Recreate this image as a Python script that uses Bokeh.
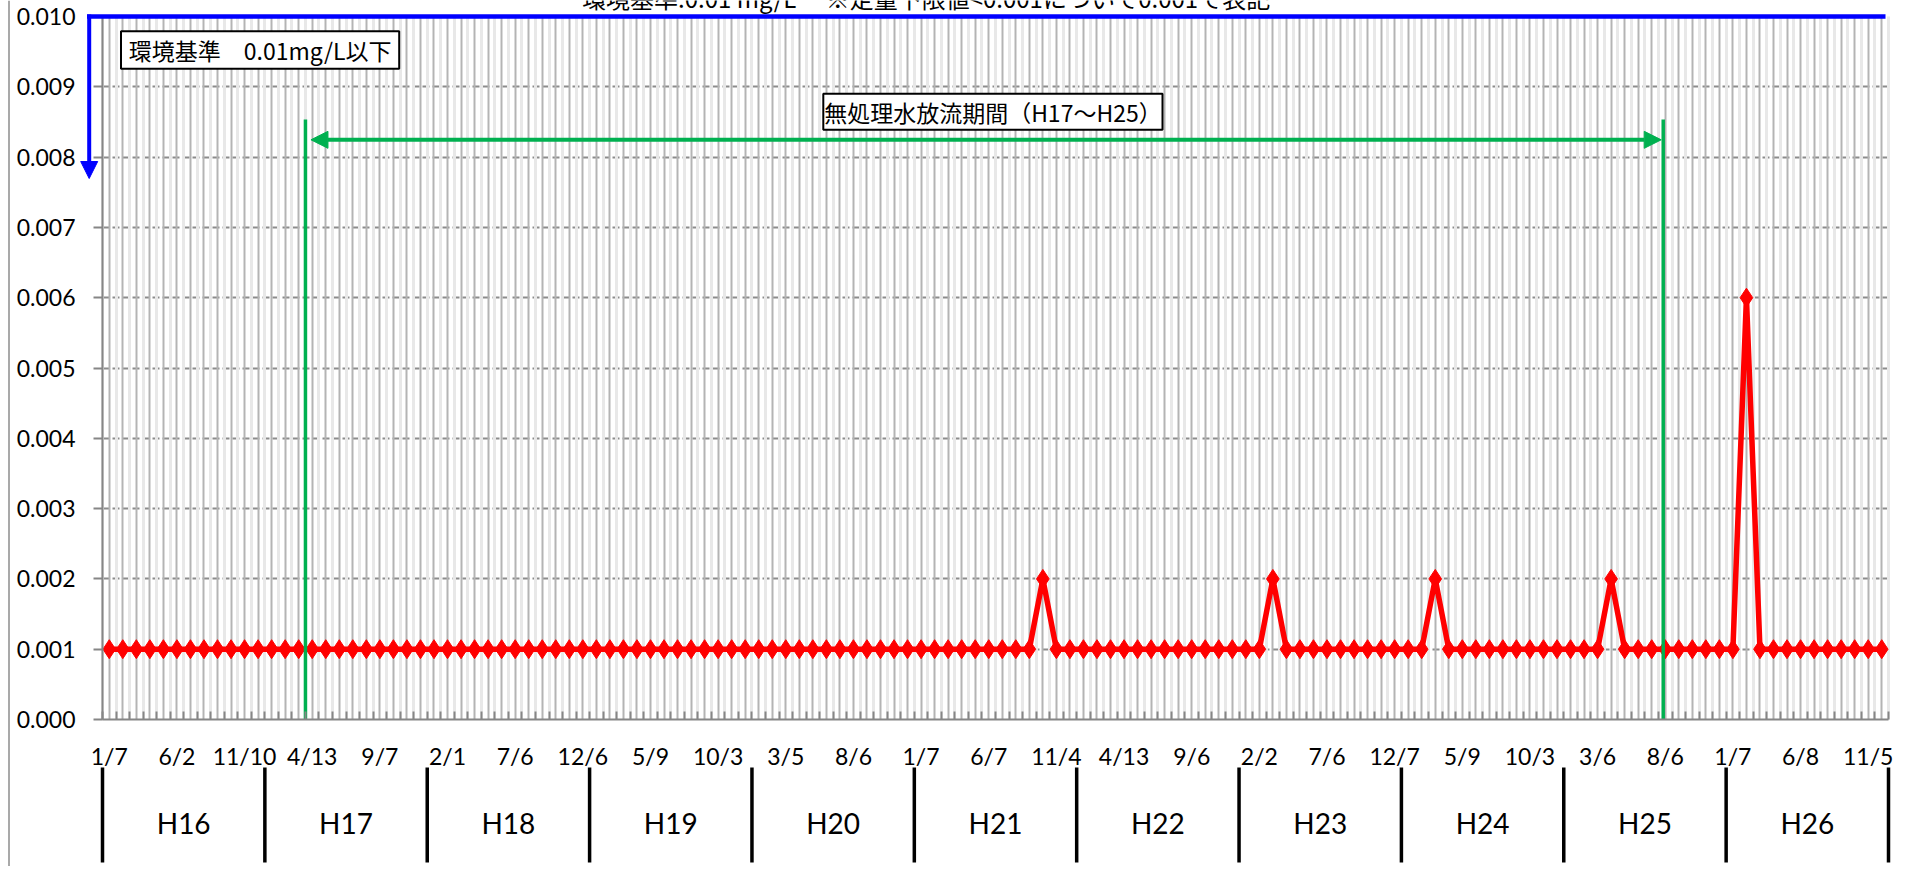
from bokeh.plotting import figure
from bokeh.models import (FixedTicker, NumeralTickFormatter, Grid, Arrow, NormalHead,
                          Label, LabelSet, ColumnDataSource, BoxAnnotation, Range1d, Span)
from bokeh.core.properties import value
from bokeh.embed import file_html
from bokeh.resources import INLINE

# ---------------- data ----------------
years = ["H16", "H17", "H18", "H19", "H20", "H21", "H22", "H23", "H24", "H25", "H26"]

# monthly measured values (mg/L), one row per year, 12 samples each
values_by_year = [
    [0.001, 0.001, 0.001, 0.001, 0.001, 0.001, 0.001, 0.001, 0.001, 0.001, 0.001, 0.001],  # H16
    [0.001, 0.001, 0.001, 0.001, 0.001, 0.001, 0.001, 0.001, 0.001, 0.001, 0.001, 0.001],  # H17
    [0.001, 0.001, 0.001, 0.001, 0.001, 0.001, 0.001, 0.001, 0.001, 0.001, 0.001, 0.001],  # H18
    [0.001, 0.001, 0.001, 0.001, 0.001, 0.001, 0.001, 0.001, 0.001, 0.001, 0.001, 0.001],  # H19
    [0.001, 0.001, 0.001, 0.001, 0.001, 0.001, 0.001, 0.001, 0.001, 0.001, 0.001, 0.001],  # H20
    [0.001, 0.001, 0.001, 0.001, 0.001, 0.001, 0.001, 0.001, 0.001, 0.002, 0.001, 0.001],  # H21
    [0.001, 0.001, 0.001, 0.001, 0.001, 0.001, 0.001, 0.001, 0.001, 0.001, 0.001, 0.001],  # H22
    [0.001, 0.001, 0.002, 0.001, 0.001, 0.001, 0.001, 0.001, 0.001, 0.001, 0.001, 0.001],  # H23
    [0.001, 0.001, 0.002, 0.001, 0.001, 0.001, 0.001, 0.001, 0.001, 0.001, 0.001, 0.001],  # H24
    [0.001, 0.001, 0.001, 0.002, 0.001, 0.001, 0.001, 0.001, 0.001, 0.001, 0.001, 0.001],  # H25
    [0.001, 0.006, 0.001, 0.001, 0.001, 0.001, 0.001, 0.001, 0.001, 0.001, 0.001, 0.001],  # H26
]

# sampling-date labels shown on every 5th sample
tick_labels = ["1/7", "6/2", "11/10", "4/13", "9/7", "2/1", "7/6", "12/6", "5/9", "10/3",
               "3/5", "8/6", "1/7", "6/7", "11/4", "4/13", "9/6", "2/2", "7/6", "12/7",
               "5/9", "10/3", "3/6", "8/6", "1/7", "6/8", "11/5"]
label_step = 5

y_ticks = [0.000, 0.001, 0.002, 0.003, 0.004, 0.005, 0.006, 0.007, 0.008, 0.009, 0.010]
standard_value = 0.010

title_text = "環境基準:0.01 mg/L　 ※定量下限値<0.001について0.001で表記"
standard_text = "環境基準　0.01mg/L以下"
period_text = "無処理水放流期間（H17〜H25）"
period_start = 14.5     # between the 3/2005 and 4/2005 samples
period_end = 114.85     # around the 8/2013 sample

# ---------------- derived ----------------
values = [v for row in values_by_year for v in row]
n = len(values)
per_year = len(values_by_year[0])
idx = list(range(n))
boundaries = [i + 0.5 for i in range(-1, n)]

# ---------------- layout (canvas pixels) ----------------
W, H = 1895, 866
FL, FR, FT, FB = 102, 1888, 16, 719      # plot area inside the canvas
X0, X1 = -0.5, n - 0.5
Y0, Y1 = y_ticks[0], y_ticks[-1]


def dx(px):
    return X0 + (px - FL) / (FR - FL) * (X1 - X0)


def dy(py):
    return Y0 + (FB - py) / (FB - FT) * (Y1 - Y0)


def sx(x):
    return FL + (x - X0) / (X1 - X0) * (FR - FL)


LAT = "Lato"
CJK = "Noto Sans CJK JP"
RED = "#FF0000"
GREEN = "#00B050"
BLUE = "#0000FF"
AXIS = "#868686"

p = figure(width=W, height=H, x_range=Range1d(dx(0), dx(W)), y_range=Range1d(dy(H), dy(0)),
           output_backend="svg", toolbar_location=None,
           min_border_left=0, min_border_right=0, min_border_top=0, min_border_bottom=0)
p.outline_line_color = None
p.background_fill_color = "white"
p.border_fill_color = "white"

# y axis (fixed at the left edge of the plot area)
p.yaxis.fixed_location = X0
p.yaxis.bounds = (Y0, Y1)
p.yaxis.ticker = FixedTicker(ticks=y_ticks)
p.yaxis.formatter = NumeralTickFormatter(format="0.000")
p.yaxis.axis_line_color = AXIS
p.yaxis.axis_line_width = 2
p.yaxis.major_tick_line_color = AXIS
p.yaxis.major_tick_line_width = 2
p.yaxis.major_tick_in = 0
p.yaxis.major_tick_out = 9
p.yaxis.minor_tick_line_color = None
p.yaxis.major_label_text_font = LAT
p.yaxis.major_label_text_font_size = "23px"
p.yaxis.major_label_text_color = "black"
p.yaxis.major_label_standoff = 18

# x axis (fixed at y = 0)
label_pos = list(range(0, n, label_step))
p.xaxis.fixed_location = Y0
p.xaxis.bounds = (X0, X1)
p.xaxis.ticker = FixedTicker(ticks=label_pos, minor_ticks=boundaries)
p.xaxis.major_label_overrides = {pos: lab for pos, lab in zip(label_pos, tick_labels)}
p.xaxis.axis_line_color = AXIS
p.xaxis.axis_line_width = 2
p.xaxis.major_tick_line_color = None
p.xaxis.major_tick_in = 0
p.xaxis.major_tick_out = 0
p.xaxis.minor_tick_line_color = AXIS
p.xaxis.minor_tick_line_width = 2
p.xaxis.minor_tick_in = 8
p.xaxis.minor_tick_out = 0
p.xaxis.major_label_text_font = LAT
p.xaxis.major_label_text_font_size = "23px"
p.xaxis.major_label_text_color = "black"
p.xaxis.major_label_standoff = 22

# grids, limited to the plot area
p.xgrid.visible = False
p.ygrid.visible = False
has_cross = "cross_bounds" in Grid.properties()
if has_cross:
    hgrid = Grid(dimension=1, ticker=FixedTicker(ticks=y_ticks[1:-1]), cross_bounds=(X0, X1),
                 grid_line_color="#8c8c8c", grid_line_width=2, grid_line_dash="7 3")
    vgrid = Grid(dimension=0, ticker=FixedTicker(ticks=idx, minor_ticks=boundaries),
                 cross_bounds=(Y0, Y1),
                 grid_line_color="#b4b4b4", grid_line_width=2,
                 minor_grid_line_color="#e8e8e8", minor_grid_line_width=3)
    p.add_layout(hgrid)
    p.add_layout(vgrid)
else:
    hy = y_ticks[1:-1]
    p.segment(x0=[X0] * len(hy), x1=[X1] * len(hy), y0=hy, y1=hy, line_color="#8c8c8c",
              line_width=2, line_dash="7 3", level="underlay")
    p.segment(x0=boundaries, x1=boundaries, y0=[Y0] * len(boundaries), y1=[Y1] * len(boundaries),
              line_color="#e8e8e8", line_width=3, level="underlay")
    p.segment(x0=idx, x1=idx, y0=[Y0] * n, y1=[Y1] * n, line_color="#b4b4b4", line_width=2,
              level="underlay")

# series
p.line(x=idx, y=values, line_color=RED, line_width=5.5)
p.scatter(x=idx, y=values, marker="diamond", size=19, fill_color=RED, line_color=RED)

# green period markers
p.segment(x0=[period_start, period_end], x1=[period_start, period_end],
          y0=[dy(119)] * 2, y1=[Y0] * 2, line_color=GREEN, line_width=3.5)
p.add_layout(Arrow(start=NormalHead(size=17, fill_color=GREEN, line_color=GREEN, line_width=1),
                   end=NormalHead(size=17, fill_color=GREEN, line_color=GREEN, line_width=1),
                   x_start=dx(sx(period_start) + 5.5), x_end=dx(sx(period_end) - 2),
                   y_start=dy(139.3), y_end=dy(139.3),
                   line_color=GREEN, line_width=4))
p.add_layout(BoxAnnotation(left=dx(822.8), right=dx(1162), top=dy(93.3), bottom=dy(129.3),
                           fill_color="white", fill_alpha=1, line_color="black",
                           line_width=2, line_alpha=1))
p.add_layout(Label(x=dx(992.4), y=dy(111.3), text=period_text, text_align="center",
                   text_baseline="middle", text_font=CJK, text_font_size="23px",
                   text_color="black"))

# environmental standard
p.add_layout(Arrow(end=None, x_start=dx(86.5), x_end=dx(1885), y_start=standard_value,
                   y_end=standard_value, line_color=BLUE, line_width=4.5))
p.add_layout(Arrow(end=NormalHead(size=17, fill_color=BLUE, line_color=BLUE, line_width=1),
                   x_start=dx(88.7), x_end=dx(88.7), y_start=dy(14), y_end=dy(178),
                   line_color=BLUE, line_width=4))
p.add_layout(BoxAnnotation(left=dx(120.5), right=dx(398.7), top=dy(30.7), bottom=dy(68.3),
                           fill_color="white", fill_alpha=1, line_color="black",
                           line_width=2, line_alpha=1))
p.add_layout(Label(x=dx(259.6), y=dy(49.5), text=standard_text, text_align="center",
                   text_baseline="middle", text_font=CJK, text_font_size="23px",
                   text_color="black"))

# cut-off heading at the very top (only its lower part shows, as in the source)
p.add_layout(Label(x=dx(926), y=dy(-3), text=title_text, text_align="center",
                   text_baseline="alphabetic", text_font=CJK, text_font_size="24px",
                   text_color="black"))

# year group dividers and labels
year_edges = [X0 + k * per_year for k in range(len(years) + 1)]
p.segment(x0=year_edges, x1=year_edges, y0=[dy(767)] * len(year_edges),
          y1=[dy(862)] * len(year_edges), line_color="black", line_width=3.5)
year_src = ColumnDataSource(dict(x=[k * per_year + (per_year - 1) / 2 for k in range(len(years))],
                                 y=[dy(822)] * len(years), text=years))
p.add_layout(LabelSet(x="x", y="y", text="text", source=year_src, text_align="center",
                      text_baseline="middle", text_font=value(LAT), text_font_size=value("28px"),
                      text_color="black"))

# chart area left border
p.add_layout(Span(location=dx(8.5), dimension="height", line_color="#8c8c8c", line_width=1.5))

open("out.html", "w").write(file_html(p, INLINE))
